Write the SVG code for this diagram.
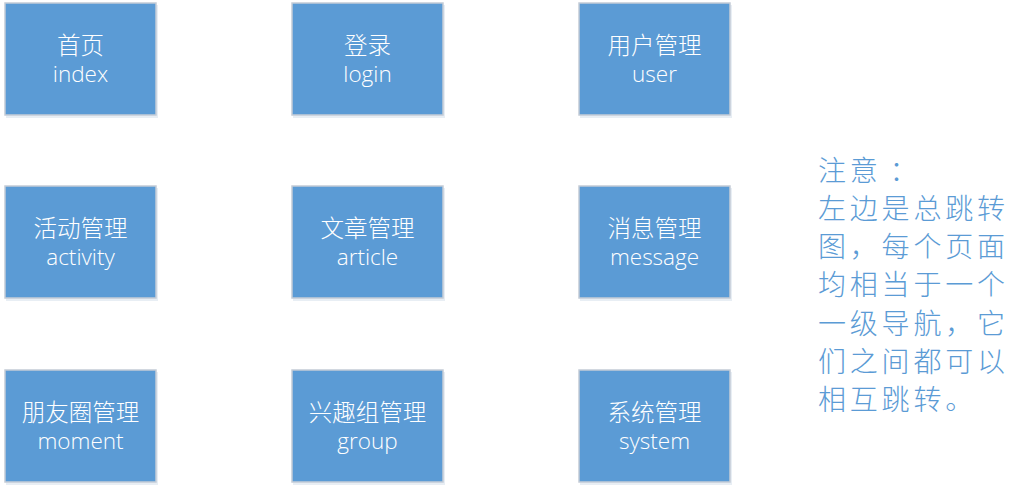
<svg xmlns="http://www.w3.org/2000/svg" width="1025" height="490" viewBox="0 0 1025 490">
<defs>
<style>
.box{fill:#5B9BD5;stroke:#C4CCD6;stroke-width:1.5}
.shadow{fill:#D8E2EC;opacity:0.6}
.cn{font-family:"Noto Sans CJK SC","Noto Sans",sans-serif;font-weight:300;font-size:23.5px;fill:#FFFFFF;text-anchor:middle}
.en{font-family:"Open Sans","Liberation Sans",sans-serif;font-weight:300;font-size:22.5px;fill:#FFFFFF;text-anchor:middle}
.note{font-family:"Noto Sans CJK SC",sans-serif;font-weight:300;font-size:28px;fill:#5B9BD5;letter-spacing:3.8px}
</style>
</defs>
<rect width="1025" height="490" fill="#FFFFFF"/>
<g id="connectors"></g>
<g id="node-index">
<rect class="shadow" x="6" y="5" width="152" height="113"/>
<rect class="box" x="5" y="3" width="151" height="112"/>
<text class="cn" x="80.5" y="54">首页</text>
<text class="en" x="80.5" y="82">index</text>
</g>
<g id="node-login">
<rect class="shadow" x="293" y="5" width="152" height="113"/>
<rect class="box" x="292" y="3" width="151" height="112"/>
<text class="cn" x="367.5" y="54">登录</text>
<text class="en" x="367.5" y="82">login</text>
</g>
<g id="node-user">
<rect class="shadow" x="580" y="5" width="152" height="113"/>
<rect class="box" x="579" y="3" width="151" height="112"/>
<text class="cn" x="654.5" y="54">用户管理</text>
<text class="en" x="654.5" y="82">user</text>
</g>
<g id="node-activity">
<rect class="shadow" x="6" y="188" width="152" height="113"/>
<rect class="box" x="5" y="186" width="151" height="112"/>
<text class="cn" x="80.5" y="237">活动管理</text>
<text class="en" x="80.5" y="265">activity</text>
</g>
<g id="node-article">
<rect class="shadow" x="293" y="188" width="152" height="113"/>
<rect class="box" x="292" y="186" width="151" height="112"/>
<text class="cn" x="367.5" y="237">文章管理</text>
<text class="en" x="367.5" y="265">article</text>
</g>
<g id="node-message">
<rect class="shadow" x="580" y="188" width="152" height="113"/>
<rect class="box" x="579" y="186" width="151" height="112"/>
<text class="cn" x="654.5" y="237">消息管理</text>
<text class="en" x="654.5" y="265">message</text>
</g>
<g id="node-moment">
<rect class="shadow" x="6" y="372" width="152" height="113"/>
<rect class="box" x="5" y="370" width="151" height="112"/>
<text class="cn" x="80.5" y="421">朋友圈管理</text>
<text class="en" x="80.5" y="449">moment</text>
</g>
<g id="node-group">
<rect class="shadow" x="293" y="372" width="152" height="113"/>
<rect class="box" x="292" y="370" width="151" height="112"/>
<text class="cn" x="367.5" y="421">兴趣组管理</text>
<text class="en" x="367.5" y="449">group</text>
</g>
<g id="node-system">
<rect class="shadow" x="580" y="372" width="152" height="113"/>
<rect class="box" x="579" y="370" width="151" height="112"/>
<text class="cn" x="654.5" y="421">系统管理</text>
<text class="en" x="654.5" y="449">system</text>
</g>
<g id="note">
<text class="note" x="818" y="181">注意<tspan dx="8">：</tspan></text>
<text class="note" x="818" y="219">左边是总跳转</text>
<text class="note" x="818" y="257">图，每个页面</text>
<text class="note" x="818" y="295">均相当于一个</text>
<text class="note" x="818" y="334">一级导航，它</text>
<text class="note" x="818" y="372">们之间都可以</text>
<text class="note" x="818" y="410">相互跳转。</text>
</g>
</svg>
